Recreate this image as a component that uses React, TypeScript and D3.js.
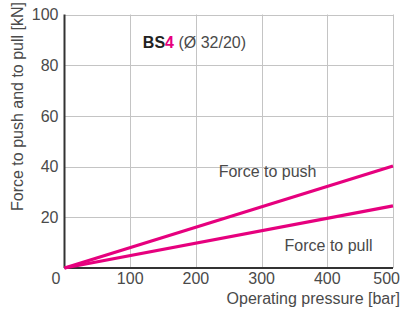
import React, { useEffect, useRef } from "react";
import * as d3 from "d3";

// chart values
const pressure = [0, 500];
const forcePush = [0, 40.2];
const forcePull = [0, 24.5];
const xTicks = [100, 200, 300, 400, 500];
const yTicks = [20, 40, 60, 80, 100];

const MAGENTA = "#e6007e";
const FONT = "'Liberation Sans', Arial, sans-serif";

export default function App() {
    const ref = useRef<SVGSVGElement>(null);

    useEffect(() => {
        const svg = d3.select(ref.current);
        svg.selectAll("*").remove();

        const margin = { top: 14.5, right: 10, bottom: 44, left: 64.5 };
        const width = 403;
        const height = 312;
        const graphWidth = width - margin.left - margin.right;
        const graphHeight = height - margin.top - margin.bottom;

        const x = d3.scaleLinear().domain([0, 500]).range([0, graphWidth]);
        const y = d3.scaleLinear().domain([0, 100]).range([graphHeight, 0]);
        // snap grid lines to the pixel grid
        const px = (v: number) => Math.round(margin.left + x(v)) + 0.5 - margin.left;
        const py = (v: number) => Math.round(margin.top + y(v)) + 0.5 - margin.top;

        const graph = svg.append("g")
            .attr("transform", `translate(${margin.left}, ${margin.top})`);

        // grid
        const grid = graph.append("g").attr("class", "grid");
        grid.selectAll(".vgrid")
            .data(xTicks).enter().append("line")
            .attr("class", "vgrid")
            .attr("x1", d => px(d)).attr("x2", d => px(d))
            .attr("y1", 0).attr("y2", graphHeight)
            .attr("stroke", "#c4c4c4").attr("stroke-width", 1);
        grid.selectAll(".hgrid")
            .data(yTicks).enter().append("line")
            .attr("class", "hgrid")
            .attr("x1", 0).attr("x2", graphWidth)
            .attr("y1", d => py(d)).attr("y2", d => py(d))
            .attr("stroke", "#c4c4c4").attr("stroke-width", 1);

        // tick labels
        graph.append("g").selectAll("text")
            .data(yTicks).enter().append("text")
            .attr("x", -6).attr("y", d => y(d))
            .attr("dy", "0.35em")
            .attr("text-anchor", "end")
            .attr("font-family", FONT).attr("font-size", 16)
            .attr("fill", "#4a4a4a")
            .text(d => d);
        graph.append("g").selectAll("text")
            .data(xTicks).enter().append("text")
            .attr("x", d => d === 500 ? graphWidth + 7 : x(d))
            .attr("y", graphHeight + 16)
            .attr("text-anchor", d => d === 500 ? "end" : "middle")
            .attr("font-family", FONT).attr("font-size", 16)
            .attr("fill", "#4a4a4a")
            .text(d => d);
        // corner zero
        graph.append("text")
            .attr("x", x(0) - 4).attr("y", graphHeight + 16)
            .attr("text-anchor", "end")
            .attr("font-family", FONT).attr("font-size", 16)
            .attr("fill", "#4a4a4a")
            .text("0");

        // axes lines
        graph.append("line")
            .attr("x1", 0).attr("x2", 0).attr("y1", 0).attr("y2", graphHeight)
            .attr("stroke", "#333").attr("stroke-width", 2);
        graph.append("line")
            .attr("x1", 0).attr("x2", graphWidth).attr("y1", graphHeight).attr("y2", graphHeight)
            .attr("stroke", "#333").attr("stroke-width", 2);

        // series lines
        const line = d3.line<number>()
            .x((d, i) => x(pressure[i]))
            .y(d => y(d));
        [forcePush, forcePull].forEach(series => {
            graph.append("path")
                .datum(series)
                .attr("d", line)
                .attr("fill", "none")
                .attr("stroke", MAGENTA)
                .attr("stroke-width", 3.2);
        });

        // line labels
        graph.append("text")
            .attr("x", x(300) + 6).attr("y", y(38))
            .attr("dy", "0.35em")
            .attr("text-anchor", "middle")
            .attr("font-family", FONT).attr("font-size", 16)
            .attr("fill", "#4a4a4a")
            .text("Force to push");
        graph.append("text")
            .attr("x", x(402)).attr("y", y(9))
            .attr("dy", "0.35em")
            .attr("text-anchor", "middle")
            .attr("font-family", FONT).attr("font-size", 16)
            .attr("fill", "#4a4a4a")
            .text("Force to pull");

        // title
        const title = graph.append("text")
            .attr("x", x(120) - 0.5).attr("y", y(89))
            .attr("dy", "0.35em")
            .attr("text-anchor", "start")
            .attr("font-family", FONT).attr("font-size", 16)
            .attr("fill", "#4a4a4a");
        title.append("tspan").attr("font-weight", "bold").attr("fill", "#222").text("BS");
        title.append("tspan").attr("font-weight", "bold").attr("fill", MAGENTA).text("4");
        title.append("tspan").text(" (Ø 32/20)");

        // axis titles
        svg.append("text")
            .attr("x", 400).attr("y", 304)
            .attr("text-anchor", "end")
            .attr("font-family", FONT).attr("font-size", 16)
            .attr("fill", "#4a4a4a")
            .text("Operating pressure [bar]");
        svg.append("text")
            .attr("transform", "translate(23, 2) rotate(-90)")
            .attr("text-anchor", "end")
            .attr("font-family", FONT).attr("font-size", 16)
            .attr("fill", "#4a4a4a")
            .text("Force to push and to pull [kN]");
    }, []);

    return (
        <svg ref={ref} width={403} height={312}
            style={{ position: "absolute", left: 0, top: 0, background: "#fff" }} />
    );
}
